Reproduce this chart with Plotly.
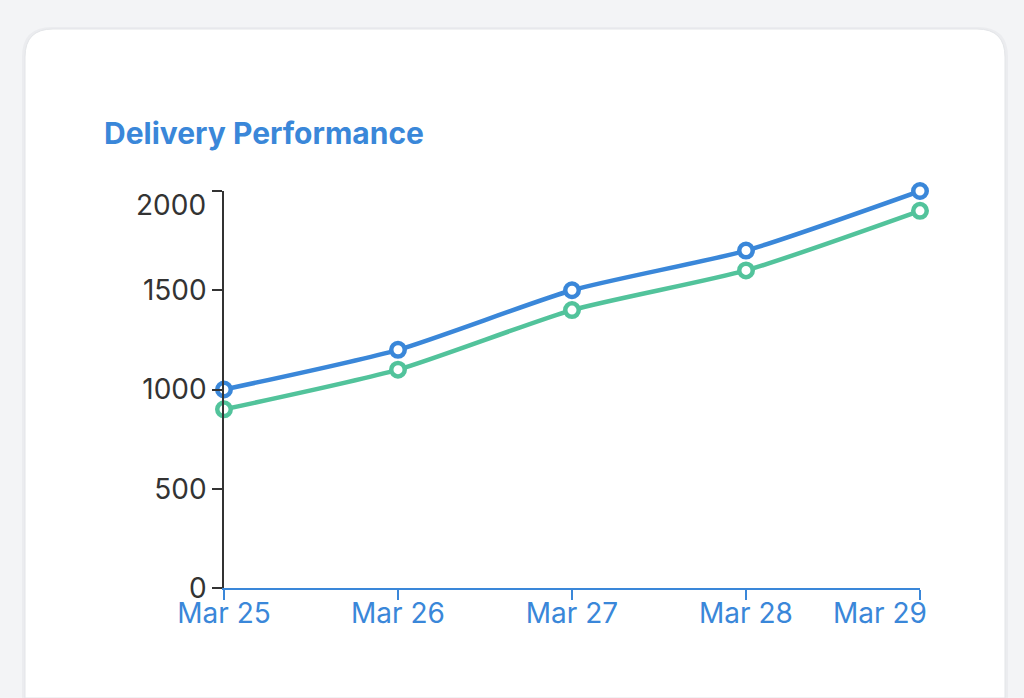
import plotly.graph_objects as go

W, H = 1024, 698

days = ["Mar 25", "Mar 26", "Mar 27", "Mar 28", "Mar 29"]
blue_vals = [1000, 1200, 1500, 1700, 2000]
green_vals = [900, 1100, 1400, 1600, 1900]
y_ticks = [0, 500, 1000, 1500, 2000]

BLUE = "#3a87d9"
GREEN = "#52c39b"
DARK = "#333333"


def px(x):
    return x / W


def py(y):
    return 1 - y / H


def card_path(x0, y0, x1, y1, r):
    # rounded top corners, flat bottom (runs off the page)
    pts = [
        f"M {px(x0 + r)},{py(y0)}",
        f"L {px(x1 - r)},{py(y0)}",
        f"Q {px(x1)},{py(y0)} {px(x1)},{py(y0 + r)}",
        f"L {px(x1)},{py(y1)}",
        f"L {px(x0)},{py(y1)}",
        f"L {px(x0)},{py(y0 + r)}",
        f"Q {px(x0)},{py(y0)} {px(x0 + r)},{py(y0)}",
        "Z",
    ]
    return " ".join(pts)


fig = go.Figure()

for vals, col, name in [(green_vals, GREEN, "green"), (blue_vals, BLUE, "blue")]:
    fig.add_trace(go.Scatter(
        x=days, y=vals, name=name,
        mode="lines+markers",
        line=dict(color=col, width=4.5, shape="spline", smoothing=0.6),
        marker=dict(size=13.5, color="white", line=dict(color=col, width=4.5)),
        cliponaxis=False,
        hoverinfo="skip",
    ))

# card shadow + card
shapes = [
    dict(type="path", xref="paper", yref="paper",
         path=card_path(22, 27, 1008, 698, 30),
         fillcolor="#ebecef", line=dict(width=0), layer="below"),
    dict(type="path", xref="paper", yref="paper",
         path=card_path(25, 29, 1005, 698, 28),
         fillcolor="white", line=dict(color="#e3e5e8", width=1), layer="below"),
]

# the end labels sit nudged inward in the original, so draw those two by hand
x_text = days[:-1] + [""]
y_text = [str(v) for v in y_ticks[:-1]] + [""]

annotations = [
    dict(text="<b>Delivery Performance</b>", xref="paper", yref="paper",
         x=px(102), y=py(133), xanchor="left", yanchor="middle",
         showarrow=False, font=dict(size=30, color=BLUE)),
    dict(text=days[-1], xref="paper", yref="paper",
         x=px(929), y=py(613), xanchor="right", yanchor="middle",
         showarrow=False, font=dict(size=28, color=BLUE)),
    dict(text=str(y_ticks[-1]), xref="paper", yref="paper",
         x=px(208), y=py(205), xanchor="right", yanchor="middle",
         showarrow=False, font=dict(size=28, color=DARK)),
]

fig.update_layout(
    width=W, height=H, autosize=False,
    margin=dict(l=0, r=0, t=0, b=0, pad=0),
    paper_bgcolor="#f3f4f6",
    plot_bgcolor="rgba(0,0,0,0)",
    showlegend=False,
    font=dict(family="Inter, Roboto, sans-serif", size=28, color=DARK),
    shapes=shapes,
    annotations=annotations,
    xaxis=dict(
        domain=[px(224), px(920)], range=[0, 4],
        automargin=False,
        tickvals=days, ticktext=x_text,
        showgrid=False, zeroline=False,
        showline=True, linecolor=BLUE, linewidth=1.5,
        ticks="outside", ticklen=10, tickcolor=BLUE, tickwidth=1.5,
        tickfont=dict(color=BLUE, size=28),
        ticklabelstandoff=-10,
    ),
    yaxis=dict(
        domain=[py(588), py(191)], range=[0, 2000],
        automargin=False,
        tickvals=y_ticks, ticktext=y_text,
        showgrid=False, zeroline=False,
        showline=True, linecolor=DARK, linewidth=1.5,
        ticks="outside", ticklen=10, tickcolor=DARK, tickwidth=1.5,
        tickfont=dict(color=DARK, size=28),
    ),
)

fig.write_html("out.html", config={"displayModeBar": False},
               post_script="document.body.style.margin = '0';")
